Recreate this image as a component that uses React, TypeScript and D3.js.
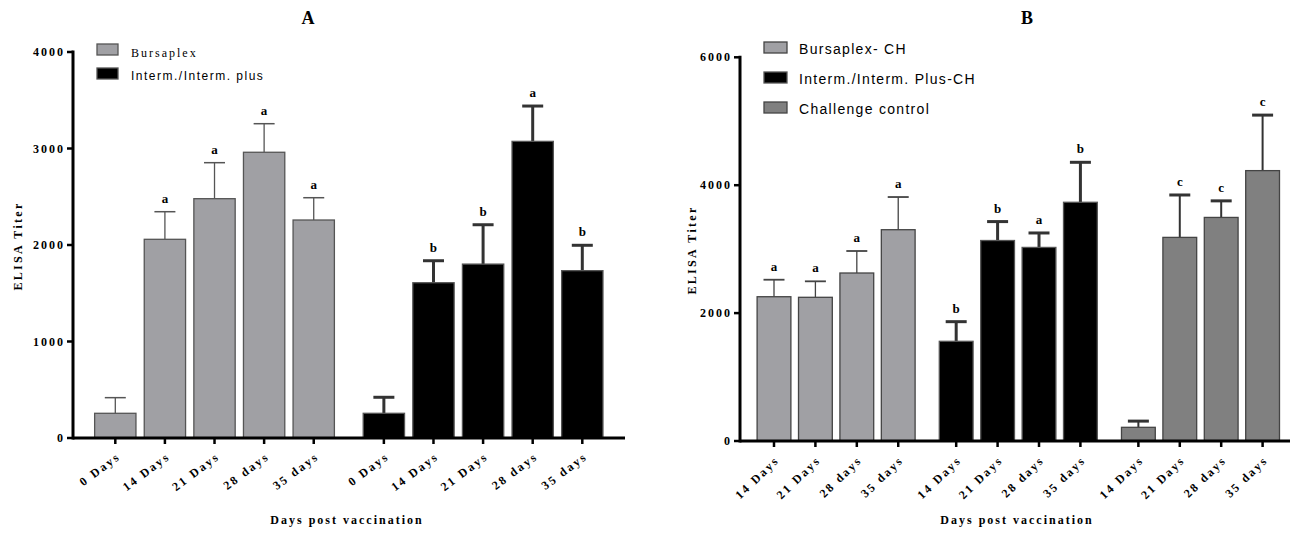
import React from "react";
import * as d3 from "d3";

// ---------- Panel A data ----------
const catsA = ["0 Days", "14 Days", "21 Days", "28 days", "35 days"];
const bursaplexA = [256, 2059, 2480, 2961, 2259];
const bursaplexA_sd = [162, 286, 373, 296, 231];
const bursaplexA_sig = ["", "a", "a", "a", "a"];
const intermA = [256, 1609, 1802, 3074, 1734];
const intermA_sd = [166, 228, 408, 366, 263];
const intermA_sig = ["", "b", "b", "a", "b"];
const ticksA = [0, 1000, 2000, 3000, 4000];

// ---------- Panel B data ----------
const catsB = ["14 Days", "21 Days", "28 days", "35 days"];
const bursaplexB = [2256, 2247, 2627, 3304];
const bursaplexB_sd = [266, 250, 344, 511];
const bursaplexB_sig = ["a", "a", "a", "a"];
const intermB = [1559, 3135, 3027, 3733];
const intermB_sd = [307, 296, 226, 625];
const intermB_sig = ["b", "b", "a", "b"];
const challengeB = [214, 3184, 3496, 4228];
const challengeB_sd = [97, 663, 259, 868];
const challengeB_sig = ["", "c", "c", "c"];
const ticksB = [0, 2000, 4000, 6000];

const SERIF = "'Liberation Serif', 'Times New Roman', serif";
const SANS = "'Liberation Sans', Arial, sans-serif";

type Series = {
  name: string;
  values: number[];
  sd: number[];
  sig: string[];
  fill: string;
  stroke: string;
  errColor: string;
  errWidth: number;
  capWidth: number;
  legendFont: string;
  legendSpacing: number;
};

type PanelProps = {
  title: string;
  titleX: number;
  cats: string[];
  series: Series[];
  ticks: number[];
  yMax: number;
  yRange: [number, number];
  axisX: number;
  axisEnd: number;
  slotRange: [number, number];
  groupGap: number;
  barFrac: number;
  yLabelX: number;
  yLabelY: number;
  xTitleX: number;
  tickAngle: number;
  legend: { x: number; textX: number; boxY: number[]; baseY: number[]; fontSize: number; boxW: number; boxH: number };
};

function Panel(p: PanelProps) {
  const n = p.cats.length;
  const G = p.series.length;
  const lastSlot = G * n - 1 + (G - 1) * p.groupGap;
  const x = d3.scaleLinear().domain([0, lastSlot]).range(p.slotRange);
  const y = d3.scaleLinear().domain([0, p.yMax]).range(p.yRange);
  const step = x(1) - x(0);
  const bw = step * p.barFrac;
  const axisY = y(0);
  const capHalf = 10.5;

  const items: JSX.Element[] = [];
  const tickEls: JSX.Element[] = [];
  p.series.forEach((s, g) => {
    s.values.forEach((v, i) => {
      const slot = g * n + i + g * p.groupGap;
      const cx = x(slot);
      const top = y(v);
      const errTop = y(v + s.sd[i]);
      items.push(
        <g key={`b-${g}-${i}`}>
          <line x1={cx} x2={cx} y1={top} y2={errTop} stroke={s.errColor} strokeWidth={s.errWidth} />
          <line x1={cx - capHalf} x2={cx + capHalf} y1={errTop} y2={errTop} stroke={s.errColor} strokeWidth={s.capWidth} />
          <rect x={cx - bw / 2} y={top} width={bw} height={axisY - top} fill={s.fill} stroke={s.stroke} strokeWidth={1.3} />
          {s.sig[i] ? (
            <text x={cx} y={errTop - 9} textAnchor="middle" fontFamily={SERIF} fontWeight="bold" fontSize={13}>
              {s.sig[i]}
            </text>
          ) : null}
        </g>
      );
      tickEls.push(
        <g key={`t-${g}-${i}`}>
          <line x1={cx} x2={cx} y1={axisY} y2={axisY + 6} stroke="#000" strokeWidth={2.5} />
          <text
            transform={`translate(${cx + 6},${axisY + 20}) rotate(${p.tickAngle})`}
            textAnchor="end"
            fontFamily={SERIF}
            fontWeight="bold"
            fontSize={12}
            letterSpacing={2.2}
          >
            {p.cats[i]}
          </text>
        </g>
      );
    });
  });

  return (
    <g>
      <text x={p.titleX} y={24} textAnchor="middle" fontFamily={SERIF} fontWeight="bold" fontSize={18}>
        {p.title}
      </text>
      {p.series.map((s, g) => (
        <g key={`l-${g}`}>
          <rect x={p.legend.x} y={p.legend.boxY[g]} width={p.legend.boxW} height={p.legend.boxH} fill={s.fill} stroke={s.stroke} strokeWidth={1.3} />
          <text x={p.legend.textX} y={p.legend.baseY[g]} fontFamily={s.legendFont} fontSize={p.legend.fontSize} letterSpacing={s.legendSpacing}>
            {s.name}
          </text>
        </g>
      ))}
      {items}
      <line x1={p.axisX} x2={p.axisX} y1={y(p.yMax) - 1.5} y2={axisY + 1.5} stroke="#000" strokeWidth={3} />
      {p.ticks.map((t) => (
        <g key={`yt-${t}`}>
          <line x1={p.axisX - 6} x2={p.axisX} y1={y(t)} y2={y(t)} stroke="#000" strokeWidth={2.5} />
          <text x={p.axisX - 8} y={y(t) + 4} textAnchor="end" fontFamily={SERIF} fontWeight="bold" fontSize={12} letterSpacing={2}>
            {t}
          </text>
        </g>
      ))}
      <line x1={p.axisX} x2={p.axisEnd} y1={axisY} y2={axisY} stroke="#000" strokeWidth={3} />
      {tickEls}
      <text
        transform={`translate(${p.yLabelX},${p.yLabelY}) rotate(-90)`}
        textAnchor="middle"
        fontFamily={SERIF}
        fontWeight="bold"
        fontSize={12}
        letterSpacing={2.3}
      >
        ELISA Titer
      </text>
      <text x={p.xTitleX} y={524} textAnchor="middle" fontFamily={SERIF} fontWeight="bold" fontSize={12} letterSpacing={2}>
        Days post vaccination
      </text>
    </g>
  );
}

export default function App() {
  const LIGHT = "#a0a0a4";
  const seriesA: Series[] = [
    { name: "Bursaplex", values: bursaplexA, sd: bursaplexA_sd, sig: bursaplexA_sig, fill: LIGHT, stroke: "#555", errColor: "#555", errWidth: 1.3, capWidth: 1.5, legendFont: SERIF, legendSpacing: 2 },
    { name: "Interm./Interm. plus", values: intermA, sd: intermA_sd, sig: intermA_sig, fill: "#000", stroke: "#555", errColor: "#333", errWidth: 3, capWidth: 3, legendFont: SANS, legendSpacing: 1.5 },
  ];
  const seriesB: Series[] = [
    { name: "Bursaplex- CH", values: bursaplexB, sd: bursaplexB_sd, sig: bursaplexB_sig, fill: LIGHT, stroke: "#444", errColor: "#444", errWidth: 1.3, capWidth: 1.8, legendFont: SANS, legendSpacing: 1.3 },
    { name: "Interm./Interm. Plus-CH", values: intermB, sd: intermB_sd, sig: intermB_sig, fill: "#000", stroke: "#555", errColor: "#333", errWidth: 3, capWidth: 3, legendFont: SANS, legendSpacing: 1.3 },
    { name: "Challenge control", values: challengeB, sd: challengeB_sd, sig: challengeB_sig, fill: "#808080", stroke: "#444", errColor: "#333", errWidth: 2, capWidth: 3, legendFont: SANS, legendSpacing: 1.3 },
  ];

  return (
    <svg width={1292} height={538} style={{ position: "absolute", left: 0, top: 0, background: "#fff" }}>
      <Panel
        title="A"
        titleX={308}
        cats={catsA}
        series={seriesA}
        ticks={ticksA}
        yMax={4000}
        yRange={[438, 52]}
        axisX={73}
        axisEnd={625}
        slotRange={[115.3, 582.3]}
        groupGap={0.414}
        barFrac={0.833}
        yLabelX={22}
        yLabelY={246}
        xTitleX={347}
        tickAngle={-37}
        legend={{ x: 97, textX: 131, boxY: [44, 68], baseY: [57, 80], fontSize: 12, boxW: 21, boxH: 11 }}
      />
      <Panel
        title="B"
        titleX={1027}
        cats={catsB}
        series={seriesB}
        ticks={ticksB}
        yMax={6000}
        yRange={[441, 57.3]}
        axisX={740}
        axisEnd={1290}
        slotRange={[774, 1262.6]}
        groupGap={0.4}
        barFrac={0.816}
        yLabelX={696}
        yLabelY={250}
        xTitleX={1017}
        tickAngle={-44}
        legend={{ x: 764, textX: 799, boxY: [42, 72, 102], baseY: [54, 84, 114], fontSize: 14, boxW: 23, boxH: 11 }}
      />
    </svg>
  );
}
